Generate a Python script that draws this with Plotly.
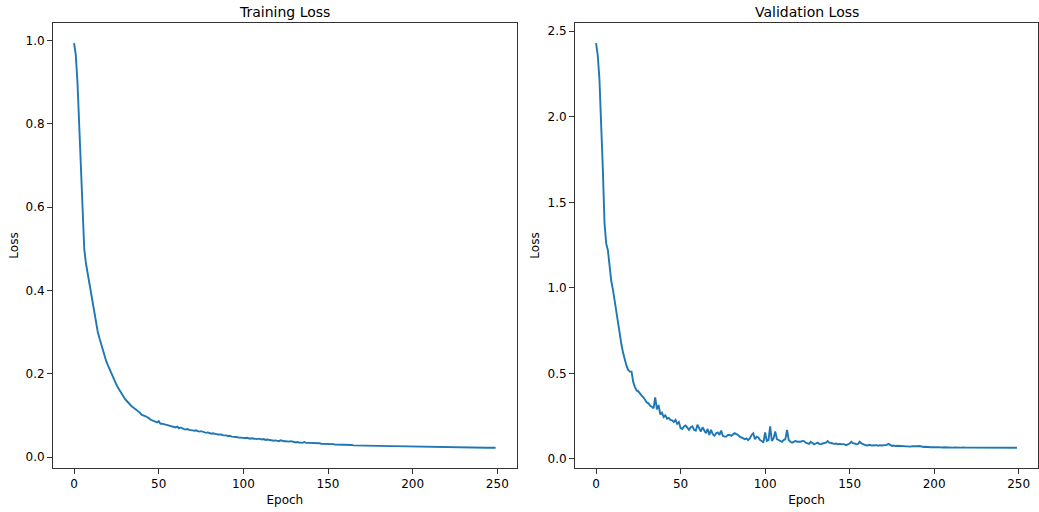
import plotly.graph_objects as go

train_loss = [
    0.993, 0.965, 0.900, 0.800, 0.680, 0.570, 0.500, 0.465, 0.440, 0.420,
    0.400, 0.370, 0.345, 0.320, 0.300, 0.285, 0.270, 0.255, 0.242, 0.230,
    0.220, 0.210, 0.200, 0.190, 0.182, 0.174, 0.166, 0.159, 0.152, 0.146,
    0.140, 0.135, 0.130, 0.126, 0.122, 0.119, 0.116, 0.114, 0.110, 0.106,
    0.101, 0.100, 0.098, 0.096, 0.094, 0.090, 0.088, 0.086, 0.084, 0.083,
    0.086, 0.080, 0.080, 0.079, 0.078, 0.077, 0.076, 0.075, 0.074, 0.072,
    0.071, 0.073, 0.069, 0.071, 0.068, 0.067, 0.066, 0.067, 0.065, 0.065,
    0.064, 0.063, 0.064, 0.062, 0.061, 0.062, 0.060, 0.059, 0.058, 0.059,
    0.057, 0.056, 0.057, 0.055, 0.055, 0.054, 0.054, 0.054, 0.052, 0.052,
    0.052, 0.050, 0.051, 0.049, 0.049, 0.049, 0.048, 0.047, 0.047, 0.046,
    0.046, 0.045, 0.046, 0.045, 0.044, 0.045, 0.044, 0.043, 0.043, 0.044,
    0.043, 0.042, 0.043, 0.041, 0.042, 0.041, 0.040, 0.040, 0.039, 0.040,
    0.039, 0.038, 0.040, 0.038, 0.038, 0.038, 0.037, 0.037, 0.038, 0.036,
    0.036, 0.035, 0.036, 0.035, 0.035, 0.034, 0.036, 0.034, 0.034, 0.034,
    0.034, 0.033, 0.034, 0.033, 0.033, 0.033, 0.032, 0.032, 0.032, 0.032,
    0.031, 0.031, 0.031, 0.031, 0.030, 0.030, 0.030, 0.030, 0.030, 0.029,
    0.029, 0.029, 0.029, 0.029, 0.029, 0.028, 0.028, 0.028, 0.028, 0.028,
    0.028, 0.028, 0.027, 0.027, 0.027, 0.027, 0.027, 0.027, 0.027, 0.027,
    0.0270, 0.0270, 0.0268, 0.0267, 0.0265, 0.0264, 0.0263, 0.0262, 0.0261, 0.0260,
    0.0259, 0.0258, 0.0257, 0.0256, 0.0255, 0.0254, 0.0253, 0.0252, 0.0251, 0.0250,
    0.0249, 0.0248, 0.0247, 0.0246, 0.0245, 0.0244, 0.0243, 0.0242, 0.0242, 0.0241,
    0.0240, 0.0240, 0.0239, 0.0238, 0.0238, 0.0237, 0.0236, 0.0236, 0.0235, 0.0235,
    0.0234, 0.0234, 0.0233, 0.0233, 0.0232, 0.0232, 0.0231, 0.0231, 0.0230, 0.0230,
    0.0230, 0.0229, 0.0229, 0.0228, 0.0228, 0.0228, 0.0227, 0.0227, 0.0226, 0.0226,
    0.0226, 0.0225, 0.0225, 0.0224, 0.0224, 0.0224, 0.0223, 0.0223, 0.0222, 0.0222,
]

val_loss = [
    2.430, 2.360, 2.220, 2.000, 1.700, 1.380, 1.260, 1.220, 1.120, 1.040,
    0.990, 0.920, 0.850, 0.780, 0.720, 0.670, 0.620, 0.580, 0.545, 0.520,
    0.510, 0.510, 0.450, 0.420, 0.400, 0.395, 0.380, 0.370, 0.360, 0.345,
    0.330, 0.325, 0.310, 0.305, 0.295, 0.360, 0.290, 0.315, 0.260, 0.270,
    0.245, 0.255, 0.235, 0.240, 0.228, 0.225, 0.215, 0.228, 0.205, 0.215,
    0.180, 0.175, 0.190, 0.195, 0.185, 0.170, 0.185, 0.190, 0.170, 0.165,
    0.200, 0.175, 0.160, 0.185, 0.170, 0.150, 0.175, 0.140, 0.170, 0.145,
    0.135, 0.150, 0.155, 0.140, 0.165, 0.135, 0.130, 0.130, 0.140, 0.140,
    0.135, 0.145, 0.150, 0.145, 0.140, 0.130, 0.125, 0.120, 0.115, 0.120,
    0.110, 0.120, 0.140, 0.150, 0.115, 0.130, 0.125, 0.110, 0.105, 0.095,
    0.155, 0.105, 0.110, 0.190, 0.105, 0.120, 0.160, 0.115, 0.110, 0.105,
    0.100, 0.110, 0.115, 0.170, 0.110, 0.100, 0.095, 0.100, 0.105, 0.100,
    0.098, 0.100, 0.105, 0.104, 0.095, 0.092, 0.088, 0.100, 0.090, 0.085,
    0.090, 0.095, 0.088, 0.085, 0.090, 0.092, 0.095, 0.104, 0.095, 0.093,
    0.090, 0.088, 0.090, 0.085, 0.088, 0.087, 0.090, 0.085, 0.080, 0.083,
    0.090, 0.100, 0.092, 0.090, 0.085, 0.088, 0.100, 0.090, 0.085, 0.080,
    0.078, 0.080, 0.082, 0.078, 0.080, 0.079, 0.080, 0.077, 0.080, 0.078,
    0.079, 0.077, 0.082, 0.088, 0.080, 0.076, 0.078, 0.075, 0.077, 0.076,
    0.075, 0.076, 0.074, 0.075, 0.073, 0.074, 0.072, 0.074, 0.073, 0.072,
    0.074, 0.075, 0.072, 0.071, 0.070, 0.071, 0.069, 0.070, 0.068, 0.069,
    0.067, 0.068, 0.069, 0.067, 0.068, 0.067, 0.068, 0.067, 0.066, 0.068,
    0.067, 0.066, 0.067, 0.066, 0.067, 0.066, 0.066, 0.067, 0.065, 0.066,
    0.066, 0.066, 0.065, 0.066, 0.065, 0.066, 0.065, 0.065, 0.066, 0.065,
    0.065, 0.066, 0.065, 0.065, 0.066, 0.065, 0.065, 0.065, 0.066, 0.065,
    0.065, 0.065, 0.066, 0.065, 0.065, 0.065, 0.066, 0.065, 0.065, 0.065,
]

epochs = list(range(len(train_loss)))
x_ticks = [0, 50, 100, 150, 200, 250]
train_y_ticks = [0.0, 0.2, 0.4, 0.6, 0.8, 1.0]
val_y_ticks = [0.0, 0.5, 1.0, 1.5, 2.0, 2.5]
titles = ["Training Loss", "Validation Loss"]


def padded(lo, hi, m=0.05):
    d = hi - lo
    return [lo - m * d, hi + m * d]


FONT = "DejaVu Sans"
LINE = "#1f77b4"
W, H = 1039, 512
ML, MR, MT, MB = 53, 1, 23, 44
plot_w = W - ML - MR
dom1 = [0.0, (516.7 - ML) / plot_w]
dom2 = [(575.0 - ML) / plot_w, 1.0]

fig = go.Figure()
fig.add_trace(go.Scatter(x=epochs, y=train_loss, mode="lines",
                         line=dict(color=LINE, width=1.9), xaxis="x", yaxis="y",
                         showlegend=False, hoverinfo="skip"))
fig.add_trace(go.Scatter(x=list(range(len(val_loss))), y=val_loss, mode="lines",
                         line=dict(color=LINE, width=1.9), xaxis="x2", yaxis="y2",
                         showlegend=False, hoverinfo="skip"))

axis_common = dict(showline=True, linecolor="#333333", linewidth=1, mirror=True,
                   ticks="outside", ticklen=5, tickwidth=1, tickcolor="#333333",
                   showgrid=False, zeroline=False,
                   tickfont=dict(family=FONT, size=12, color="black"))

xr = padded(0, len(train_loss) - 1)
fig.update_layout(
    width=W, height=H,
    margin=dict(l=ML, r=MR, t=MT, b=MB),
    paper_bgcolor="white", plot_bgcolor="white",
    font=dict(family=FONT, size=12, color="black"),
    xaxis=dict(domain=dom1, range=xr, tickvals=x_ticks, anchor="y",
               title=dict(text="Epoch", standoff=5, font=dict(family=FONT, size=12)),
               **axis_common),
    yaxis=dict(domain=[0, 1], range=padded(min(train_loss), max(train_loss)),
               tickvals=train_y_ticks, tickformat=".1f", anchor="x",
               title=dict(text="Loss", standoff=4, font=dict(family=FONT, size=12)),
               **axis_common),
    xaxis2=dict(domain=dom2, range=padded(0, len(val_loss) - 1), tickvals=x_ticks, anchor="y2",
                title=dict(text="Epoch", standoff=5, font=dict(family=FONT, size=12)),
                **axis_common),
    yaxis2=dict(domain=[0, 1], range=padded(min(val_loss), max(val_loss)),
                tickvals=val_y_ticks, tickformat=".1f", anchor="x2",
                title=dict(text="Loss", standoff=5, font=dict(family=FONT, size=12)),
                **axis_common),
    annotations=[
        dict(text=titles[0], x=(dom1[0] + dom1[1]) / 2, y=1, xref="paper", yref="paper",
             xanchor="center", yanchor="bottom", yshift=1, showarrow=False,
             font=dict(family=FONT, size=14, color="black")),
        dict(text=titles[1], x=(dom2[0] + dom2[1]) / 2, y=1, xref="paper", yref="paper",
             xanchor="center", yanchor="bottom", yshift=1, showarrow=False,
             font=dict(family=FONT, size=14, color="black")),
    ],
)

fig.write_html("out.html")
